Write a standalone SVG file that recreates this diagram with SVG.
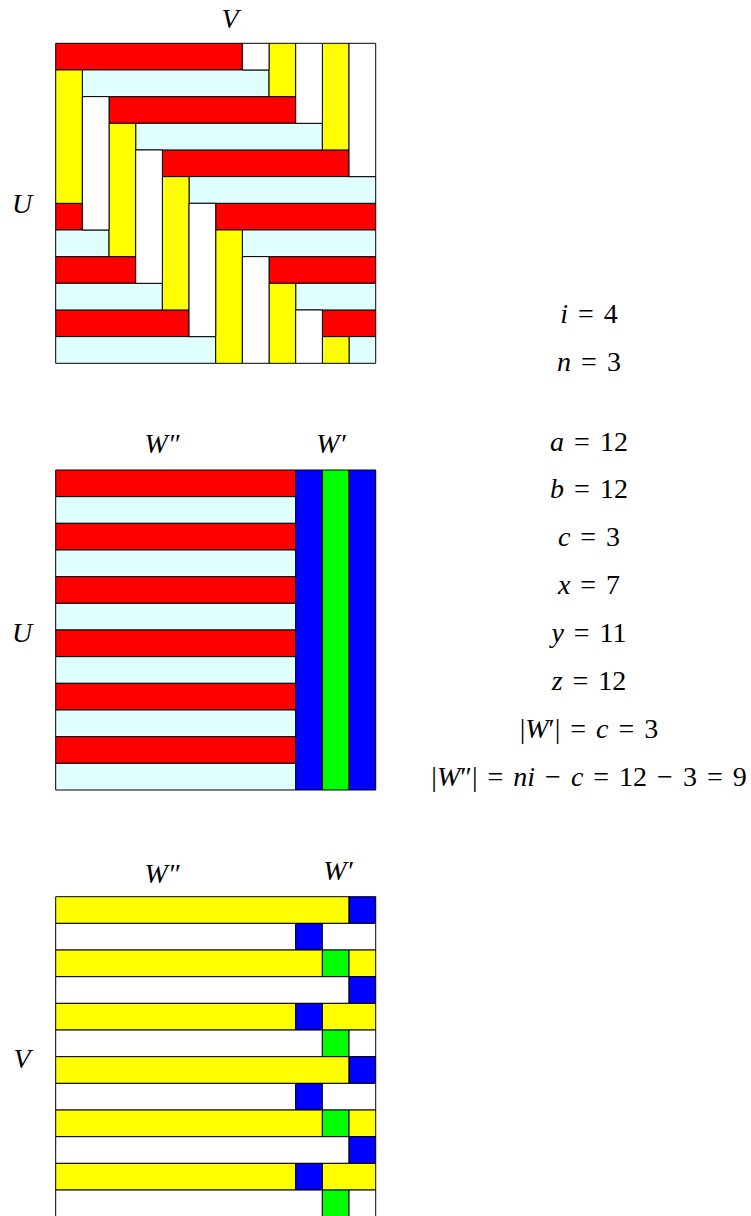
<svg xmlns="http://www.w3.org/2000/svg" width="751" height="1216" viewBox="0 0 751 1216">
<style>
rect{stroke:#000;stroke-width:1;vector-effect:non-scaling-stroke}
.r{fill:#ff0000}.c{fill:#e0ffff}.y{fill:#ffff00}.w{fill:#ffffff}.b{fill:#0000ff}.g{fill:#00ff00}
text{font-family:"Liberation Serif","DejaVu Serif",serif;font-size:28px;fill:#000}
.m{text-anchor:middle}
.i{font-style:italic}
.v{word-spacing:3px}
</style>
<rect x="0" y="0" width="751" height="1216" style="fill:#fff;stroke:none"/>
<g id="grid-top" transform="translate(55.7,43.3) scale(26.667)">
<rect class="r" x="0" y="0" width="7" height="1"/>
<rect class="r" x="2" y="2" width="7" height="1"/>
<rect class="r" x="4" y="4" width="7" height="1"/>
<rect class="r" x="6" y="6" width="6" height="1"/><rect class="r" x="0" y="6" width="1" height="1"/>
<rect class="r" x="8" y="8" width="4" height="1"/><rect class="r" x="0" y="8" width="3" height="1"/>
<rect class="r" x="10" y="10" width="2" height="1"/><rect class="r" x="0" y="10" width="5" height="1"/>
<rect class="c" x="1" y="1" width="7" height="1"/>
<rect class="c" x="3" y="3" width="7" height="1"/>
<rect class="c" x="5" y="5" width="7" height="1"/>
<rect class="c" x="7" y="7" width="5" height="1"/><rect class="c" x="0" y="7" width="2" height="1"/>
<rect class="c" x="9" y="9" width="3" height="1"/><rect class="c" x="0" y="9" width="4" height="1"/>
<rect class="c" x="11" y="11" width="1" height="1"/><rect class="c" x="0" y="11" width="6" height="1"/>
<rect class="y" x="0" y="1" width="1" height="5"/>
<rect class="y" x="2" y="3" width="1" height="5"/>
<rect class="y" x="4" y="5" width="1" height="5"/>
<rect class="y" x="6" y="7" width="1" height="5"/>
<rect class="y" x="8" y="9" width="1" height="3"/><rect class="y" x="8" y="0" width="1" height="2"/>
<rect class="y" x="10" y="11" width="1" height="1"/><rect class="y" x="10" y="0" width="1" height="4"/>
<rect class="w" x="1" y="2" width="1" height="5"/>
<rect class="w" x="3" y="4" width="1" height="5"/>
<rect class="w" x="5" y="6" width="1" height="5"/>
<rect class="w" x="7" y="8" width="1" height="4"/><rect class="w" x="7" y="0" width="1" height="1"/>
<rect class="w" x="9" y="10" width="1" height="2"/><rect class="w" x="9" y="0" width="1" height="3"/>
<rect class="w" x="11" y="0" width="1" height="5"/>
</g>
<g id="grid-middle" transform="translate(55.7,470) scale(26.667)">
<rect class="r" x="0" y="0" width="9" height="1"/>
<rect class="c" x="0" y="1" width="9" height="1"/>
<rect class="r" x="0" y="2" width="9" height="1"/>
<rect class="c" x="0" y="3" width="9" height="1"/>
<rect class="r" x="0" y="4" width="9" height="1"/>
<rect class="c" x="0" y="5" width="9" height="1"/>
<rect class="r" x="0" y="6" width="9" height="1"/>
<rect class="c" x="0" y="7" width="9" height="1"/>
<rect class="r" x="0" y="8" width="9" height="1"/>
<rect class="c" x="0" y="9" width="9" height="1"/>
<rect class="r" x="0" y="10" width="9" height="1"/>
<rect class="c" x="0" y="11" width="9" height="1"/>
<rect class="b" x="9" y="0" width="1" height="12"/>
<rect class="g" x="10" y="0" width="1" height="12"/>
<rect class="b" x="11" y="0" width="1" height="12"/>
</g>
<g id="grid-bottom" transform="translate(55.7,896.7) scale(26.667)">
<rect class="y" x="0" y="0" width="11" height="1"/><rect class="b" x="11" y="0" width="1" height="1"/>
<rect class="w" x="0" y="1" width="9" height="1"/><rect class="b" x="9" y="1" width="1" height="1"/><rect class="w" x="10" y="1" width="2" height="1"/>
<rect class="y" x="0" y="2" width="10" height="1"/><rect class="g" x="10" y="2" width="1" height="1"/><rect class="y" x="11" y="2" width="1" height="1"/>
<rect class="w" x="0" y="3" width="11" height="1"/><rect class="b" x="11" y="3" width="1" height="1"/>
<rect class="y" x="0" y="4" width="9" height="1"/><rect class="b" x="9" y="4" width="1" height="1"/><rect class="y" x="10" y="4" width="2" height="1"/>
<rect class="w" x="0" y="5" width="10" height="1"/><rect class="g" x="10" y="5" width="1" height="1"/><rect class="w" x="11" y="5" width="1" height="1"/>
<rect class="y" x="0" y="6" width="11" height="1"/><rect class="b" x="11" y="6" width="1" height="1"/>
<rect class="w" x="0" y="7" width="9" height="1"/><rect class="b" x="9" y="7" width="1" height="1"/><rect class="w" x="10" y="7" width="2" height="1"/>
<rect class="y" x="0" y="8" width="10" height="1"/><rect class="g" x="10" y="8" width="1" height="1"/><rect class="y" x="11" y="8" width="1" height="1"/>
<rect class="w" x="0" y="9" width="11" height="1"/><rect class="b" x="11" y="9" width="1" height="1"/>
<rect class="y" x="0" y="10" width="9" height="1"/><rect class="b" x="9" y="10" width="1" height="1"/><rect class="y" x="10" y="10" width="2" height="1"/>
<rect class="w" x="0" y="11" width="10" height="1"/><rect class="g" x="10" y="11" width="1" height="1"/><rect class="w" x="11" y="11" width="1" height="1"/>
</g>
<g id="labels">
<text class="m i" x="230" y="28">V</text>
<text class="m i" x="22" y="213">U</text>
<text class="m i" x="162" y="453">W″</text>
<text class="m i" x="331" y="453">W′</text>
<text class="m i" x="22" y="642">U</text>
<text class="m i" x="162" y="883">W″</text>
<text class="m i" x="338" y="880">W′</text>
<text class="m i" x="22" y="1068">V</text>
</g>
<g id="values">
<text class="m v" x="589" y="323"><tspan class="i">i</tspan> = 4</text>
<text class="m v" x="589" y="371"><tspan class="i">n</tspan> = 3</text>
<text class="m v" x="589" y="451"><tspan class="i">a</tspan> = 12</text>
<text class="m v" x="589" y="498"><tspan class="i">b</tspan> = 12</text>
<text class="m v" x="589" y="546"><tspan class="i">c</tspan> = 3</text>
<text class="m v" x="589" y="594"><tspan class="i">x</tspan> = 7</text>
<text class="m v" x="589" y="642"><tspan class="i">y</tspan> = 11</text>
<text class="m v" x="589" y="690"><tspan class="i">z</tspan> = 12</text>
<text class="m v" x="589" y="738">|<tspan class="i">W</tspan>′| = <tspan class="i">c</tspan> = 3</text>
<text class="m v" x="589" y="786">|<tspan class="i">W</tspan>″| = <tspan class="i">ni</tspan> − <tspan class="i">c</tspan> = 12 − 3 = 9</text>
</g>
</svg>
